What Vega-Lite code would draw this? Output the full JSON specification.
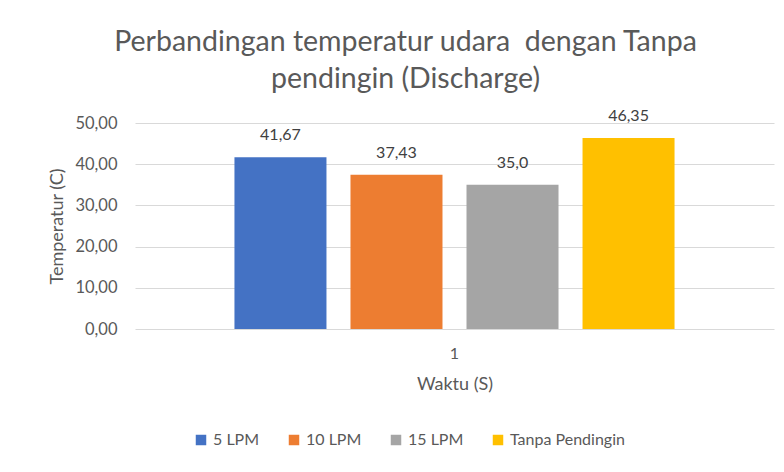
{
  "$schema": "https://vega.github.io/schema/vega-lite/v6.json",
  "autosize": {"type": "none"},
  "width": 639,
  "height": 206,
  "padding": {"left": 135, "top": 123, "right": 10, "bottom": 143},
  "background": "white",
  "title": {
    "text": ["Perbandingan temperatur udara \u00a0dengan Tanpa", "pendingin (Discharge)"],
    "font": "Lato",
    "fontSize": 28.5,
    "fontWeight": "normal",
    "color": "#595959",
    "lineHeight": 37,
    "anchor": "middle",
    "dx": -49,
    "offset": 15
  },
  "config": {
    "view": {"stroke": null},
    "font": "Lato"
  },
  "data": {
    "values": [
      {"waktu": "1", "seri": "5 LPM", "suhu": 41.67, "label": "41,67"},
      {"waktu": "1", "seri": "10 LPM", "suhu": 37.43, "label": "37,43"},
      {"waktu": "1", "seri": "15 LPM", "suhu": 35.0, "label": "35,0"},
      {"waktu": "1", "seri": "Tanpa Pendingin", "suhu": 46.35, "label": "46,35"}
    ]
  },
  "encoding": {
    "x": {
      "field": "waktu",
      "type": "nominal",
      "scale": {"paddingInner": 0, "paddingOuter": 0.226},
      "axis": {
        "title": "Waktu (S)",
        "labelAngle": 0,
        "labelFont": "Lato",
        "labelFontSize": 16,
        "labelColor": "#595959",
        "titleFont": "Lato",
        "titleFontSize": 18,
        "titleFontWeight": "normal",
        "titleColor": "#595959",
        "domain": false,
        "ticks": false,
        "labelPadding": 16,
        "titlePadding": 14
      }
    },
    "xOffset": {
      "field": "seri",
      "type": "nominal",
      "sort": ["5 LPM", "10 LPM", "15 LPM", "Tanpa Pendingin"],
      "scale": {"paddingInner": 0.207, "paddingOuter": 0}
    },
    "y": {
      "field": "suhu",
      "type": "quantitative",
      "scale": {"domain": [0, 50], "nice": false},
      "axis": {
        "title": "Temperatur (C)",
        "values": [0, 10, 20, 30, 40, 50],
        "labelExpr": "replace(format(datum.value, '.2f'), '.', ',')",
        "labelFont": "Lato",
        "labelFontSize": 16.5,
        "labelColor": "#595959",
        "labelPadding": 18,
        "titleFont": "Lato",
        "titleFontSize": 18,
        "titleFontWeight": "normal",
        "titleColor": "#595959",
        "titlePadding": 8,
        "domain": false,
        "ticks": false,
        "grid": true,
        "gridColor": "#d9d9d9",
        "gridWidth": 1
      }
    }
  },
  "layer": [
    {
      "mark": {"type": "bar"},
      "encoding": {
        "color": {
          "field": "seri",
          "type": "nominal",
          "sort": ["5 LPM", "10 LPM", "15 LPM", "Tanpa Pendingin"],
          "scale": {
            "domain": ["5 LPM", "10 LPM", "15 LPM", "Tanpa Pendingin"],
            "range": ["#4472C4", "#ED7D31", "#A5A5A5", "#FFC000"]
          },
          "legend": {
            "title": null,
            "orient": "none",
            "direction": "horizontal",
            "legendX": 58,
            "legendY": 309,
            "symbolType": "square",
            "symbolSize": 110,
            "symbolStrokeWidth": 0,
            "labelFont": "Lato",
            "labelFontSize": 16,
            "labelColor": "#595959",
            "columnPadding": 26,
            "labelOffset": 4
          }
        }
      }
    },
    {
      "mark": {"type": "text", "dy": -22, "fontSize": 16, "font": "Lato", "color": "#404040"},
      "encoding": {
        "text": {"field": "label"}
      }
    }
  ]
}
